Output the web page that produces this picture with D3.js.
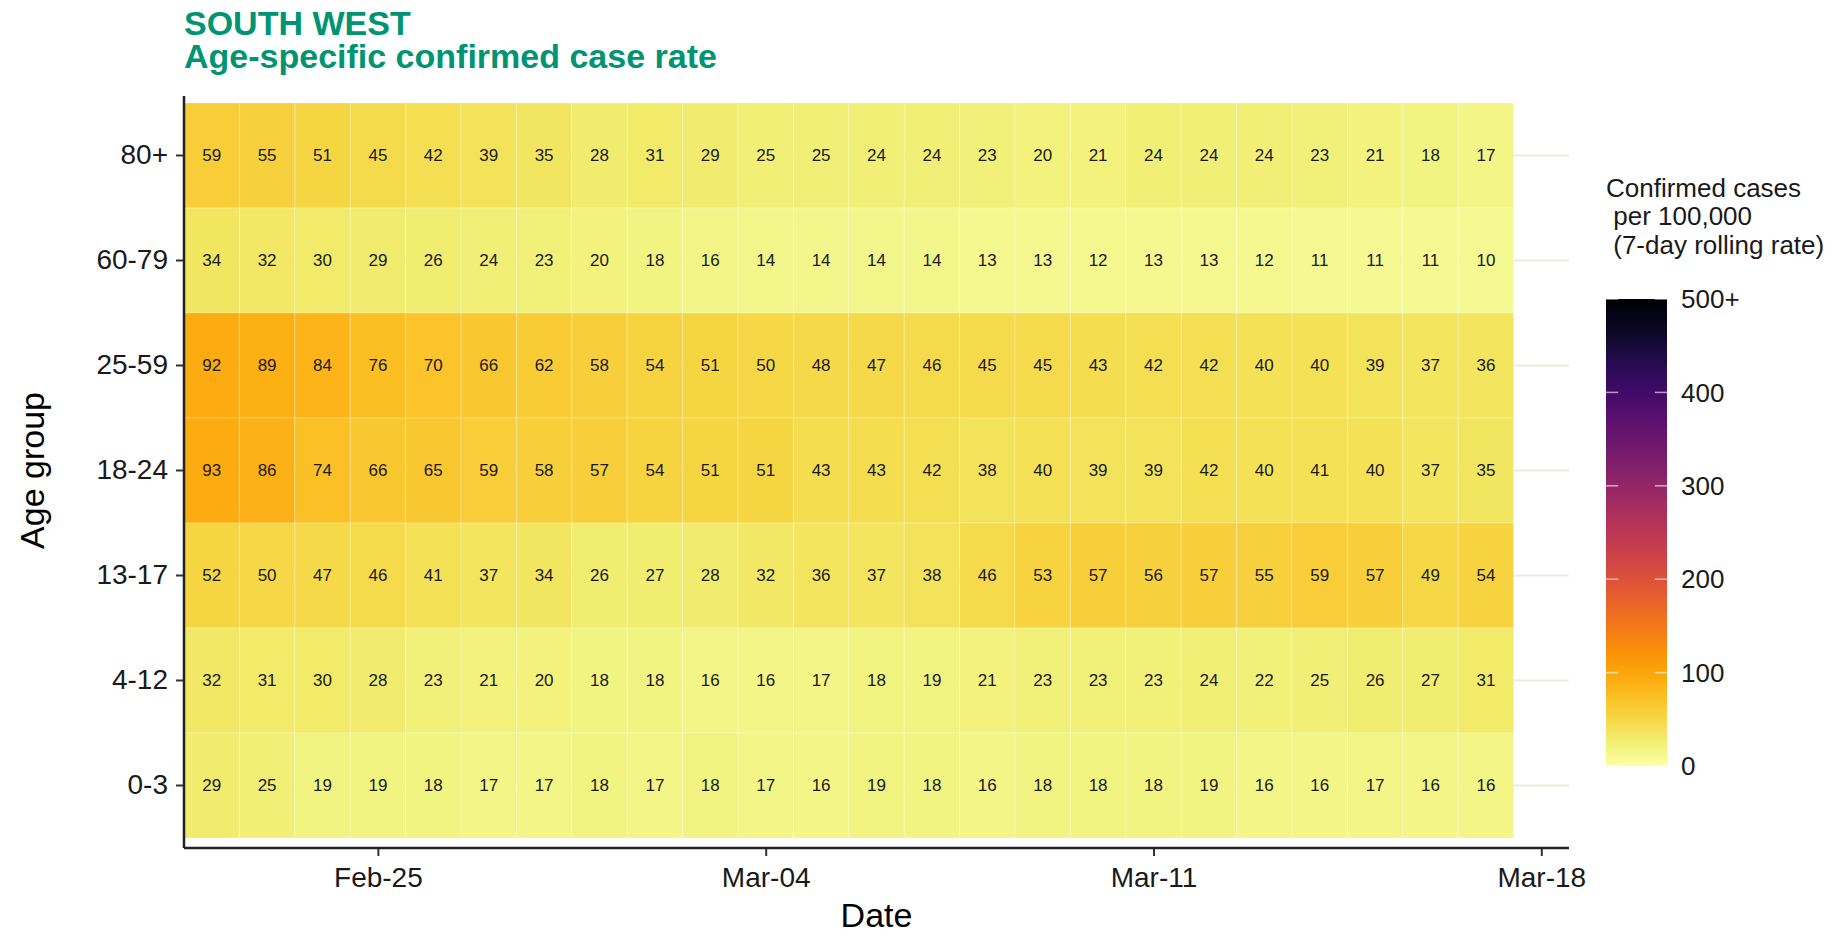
<!DOCTYPE html>
<html>
<head>
<meta charset="utf-8">
<script src="https://cdn.jsdelivr.net/npm/d3@7"></script>
<style>
  body { margin: 0; background: #fff; }
  svg text { font-family: "Liberation Sans", Arial, sans-serif; }
</style>
</head>
<body>
<svg id="viz" width="1839" height="937"></svg>
<script>
// age groups, top row first
var ageGroups = ["80+", "60-79", "25-59", "18-24", "13-17", "4-12", "0-3"];

var dates = [
    "2021-02-22", "2021-02-23", "2021-02-24", "2021-02-25", "2021-02-26", "2021-02-27",
    "2021-02-28", "2021-03-01", "2021-03-02", "2021-03-03", "2021-03-04", "2021-03-05",
    "2021-03-06", "2021-03-07", "2021-03-08", "2021-03-09", "2021-03-10", "2021-03-11",
    "2021-03-12", "2021-03-13", "2021-03-14", "2021-03-15", "2021-03-16", "2021-03-17"
];

// 7-day rolling rate per 100,000, one list per age group
var rate80plus = [59, 55, 51, 45, 42, 39, 35, 28, 31, 29, 25, 25, 24, 24, 23, 20, 21, 24, 24, 24, 23, 21, 18, 17];
var rate60to79 = [34, 32, 30, 29, 26, 24, 23, 20, 18, 16, 14, 14, 14, 14, 13, 13, 12, 13, 13, 12, 11, 11, 11, 10];
var rate25to59 = [92, 89, 84, 76, 70, 66, 62, 58, 54, 51, 50, 48, 47, 46, 45, 45, 43, 42, 42, 40, 40, 39, 37, 36];
var rate18to24 = [93, 86, 74, 66, 65, 59, 58, 57, 54, 51, 51, 43, 43, 42, 38, 40, 39, 39, 42, 40, 41, 40, 37, 35];
var rate13to17 = [52, 50, 47, 46, 41, 37, 34, 26, 27, 28, 32, 36, 37, 38, 46, 53, 57, 56, 57, 55, 59, 57, 49, 54];
var rate4to12 = [32, 31, 30, 28, 23, 21, 20, 18, 18, 16, 16, 17, 18, 19, 21, 23, 23, 23, 24, 22, 25, 26, 27, 31];
var rate0to3 = [29, 25, 19, 19, 18, 17, 17, 18, 17, 18, 17, 16, 19, 18, 16, 18, 18, 18, 19, 16, 16, 17, 16, 16];

var rates = [rate80plus, rate60to79, rate25to59, rate18to24, rate13to17, rate4to12, rate0to3];

var dateTicks = ["2021-02-25", "2021-03-04", "2021-03-11", "2021-03-18"];
var legendTicks = [0, 100, 200, 300, 400, 500];
var legendMax = 500;

window.addEventListener("load", run);

function run() {
    var svg = d3.select("#viz");
    var parse = d3.timeParse("%Y-%m-%d");
    var day = 24 * 3600 * 1000;

    var panel = { left: 184, right: 1569, top: 96, bottom: 848 };
    var tileTop = 103, tileBottom = 838;

    var first = parse(dates[0]);
    var lastTick = parse(dateTicks[dateTicks.length - 1]);
    var x = d3.scaleTime()
        .domain([new Date(+first - day / 2), new Date(+lastTick + day / 2)])
        .range([panel.left, panel.right]);

    var y = d3.scaleBand()
        .domain(ageGroups)
        .range([tileTop, tileBottom])
        .padding(0);

    var color = function (v) {
        return d3.interpolateInferno(1 - Math.min(v, legendMax) / legendMax);
    };

    var cells = [];
    ageGroups.forEach(function (g, i) {
        rates[i].forEach(function (v, j) {
            cells.push({ group: g, date: parse(dates[j]), value: v });
        });
    });

    // horizontal grid lines (mostly hidden by the tiles)
    svg.append("g").selectAll("line").data(ageGroups).enter()
        .append("line")
        .attr("x1", panel.left)
        .attr("x2", panel.right)
        .attr("y1", function (d) { return y(d) + y.bandwidth() / 2; })
        .attr("y2", function (d) { return y(d) + y.bandwidth() / 2; })
        .style("stroke", "#ebebe1")
        .style("stroke-width", "2px");

    // tiles
    svg.append("g").selectAll("rect").data(cells).enter()
        .append("rect")
        .attr("x", function (d) { return x(new Date(+d.date - day / 2)); })
        .attr("y", function (d) { return y(d.group); })
        .attr("width", function (d) { return x(new Date(+d.date + day / 2)) - x(new Date(+d.date - day / 2)); })
        .attr("height", y.bandwidth())
        .style("fill", function (d) { return color(d.value); })
        .style("stroke", "rgba(255,255,255,0.25)")
        .style("stroke-width", "1px");

    svg.append("g").selectAll("text").data(cells).enter()
        .append("text")
        .attr("x", function (d) { return x(d.date); })
        .attr("y", function (d) { return y(d.group) + y.bandwidth() / 2; })
        .attr("dy", "0.35em")
        .style("text-anchor", "middle")
        .style("font-size", "17px")
        .style("fill", "#1a1a1a")
        .text(function (d) { return d.value; });

    // axes
    var xAxis = d3.axisBottom(x)
        .tickValues(dateTicks.map(parse))
        .tickFormat(d3.timeFormat("%b-%d"))
        .tickSize(8)
        .tickPadding(11);
    var gx = svg.append("g")
        .attr("transform", "translate(0," + panel.bottom + ")")
        .call(xAxis);
    gx.select(".domain").remove();
    gx.selectAll(".tick line").style("stroke", "#333").style("stroke-width", "2px");
    gx.selectAll(".tick text")
        .style("font-size", "28px")
        .style("fill", "#1a1a1a")
        .style("font-family", "'Liberation Sans', Arial, sans-serif");

    var yAxis = d3.axisLeft(y).tickSize(8).tickPadding(8);
    var gy = svg.append("g")
        .attr("transform", "translate(" + panel.left + ",0)")
        .call(yAxis);
    gy.select(".domain").remove();
    gy.selectAll(".tick line").style("stroke", "#333").style("stroke-width", "2px");
    gy.selectAll(".tick text")
        .style("font-size", "28px")
        .style("fill", "#1a1a1a")
        .style("font-family", "'Liberation Sans', Arial, sans-serif");

    svg.append("line")
        .attr("x1", panel.left).attr("x2", panel.right)
        .attr("y1", panel.bottom).attr("y2", panel.bottom)
        .style("stroke", "#222").style("stroke-width", "2.5px");
    svg.append("line")
        .attr("x1", panel.left).attr("x2", panel.left)
        .attr("y1", panel.top).attr("y2", panel.bottom)
        .style("stroke", "#222").style("stroke-width", "2.5px");

    // axis titles
    svg.append("text")
        .attr("x", (panel.left + panel.right) / 2)
        .attr("y", 927)
        .style("text-anchor", "middle")
        .style("font-size", "34px")
        .style("fill", "#000")
        .text("Date");

    svg.append("text")
        .attr("transform", "translate(44," + (tileTop + tileBottom) / 2 + ") rotate(-90)")
        .style("text-anchor", "middle")
        .style("font-size", "34px")
        .style("fill", "#000")
        .text("Age group");

    // title
    var title = svg.append("text")
        .attr("x", panel.left)
        .style("font-size", "34px")
        .style("font-weight", "bold")
        .style("fill", "#009473");
    title.append("tspan").attr("x", panel.left).attr("y", 35).text("SOUTH WEST");
    title.append("tspan").attr("x", panel.left).attr("y", 68).text("Age-specific confirmed case rate");

    // legend
    var lx = 1606, lw = 61, lTop = 299, lBottom = 766;
    var ly = d3.scaleLinear().domain([0, legendMax]).range([lBottom, lTop]);

    var lt = svg.append("text").style("font-size", "26px").style("fill", "#1a1a1a");
    lt.append("tspan").attr("x", lx).attr("y", 197).text("Confirmed cases");
    lt.append("tspan").attr("x", lx).attr("y", 225).text("\u00a0per 100,000");
    lt.append("tspan").attr("x", lx).attr("y", 254).text("\u00a0(7-day rolling rate)");

    var grad = svg.append("defs").append("linearGradient")
        .attr("id", "legendGrad")
        .attr("x1", "0").attr("y1", "1").attr("x2", "0").attr("y2", "0");
    d3.range(0, 1.0001, 0.05).forEach(function (t) {
        grad.append("stop")
            .attr("offset", t)
            .attr("stop-color", color(t * legendMax));
    });

    svg.append("rect")
        .attr("x", lx).attr("y", lTop)
        .attr("width", lw).attr("height", lBottom - lTop)
        .style("fill", "url(#legendGrad)");

    var lg = svg.append("g").selectAll("g").data(legendTicks).enter().append("g");
    lg.append("line")
        .attr("x1", lx).attr("x2", lx + lw / 5)
        .attr("y1", function (d) { return ly(d); })
        .attr("y2", function (d) { return ly(d); })
        .style("stroke", "rgba(255,255,255,0.6)").style("stroke-width", "1.5px");
    lg.append("line")
        .attr("x1", lx + lw - lw / 5).attr("x2", lx + lw)
        .attr("y1", function (d) { return ly(d); })
        .attr("y2", function (d) { return ly(d); })
        .style("stroke", "rgba(255,255,255,0.6)").style("stroke-width", "1.5px");
    lg.append("text")
        .attr("x", lx + lw + 14)
        .attr("y", function (d) { return ly(d); })
        .attr("dy", "0.35em")
        .style("font-size", "26px")
        .style("fill", "#1a1a1a")
        .text(function (d) { return d === legendMax ? d + "+" : d; });
}
</script>
</body>
</html>
